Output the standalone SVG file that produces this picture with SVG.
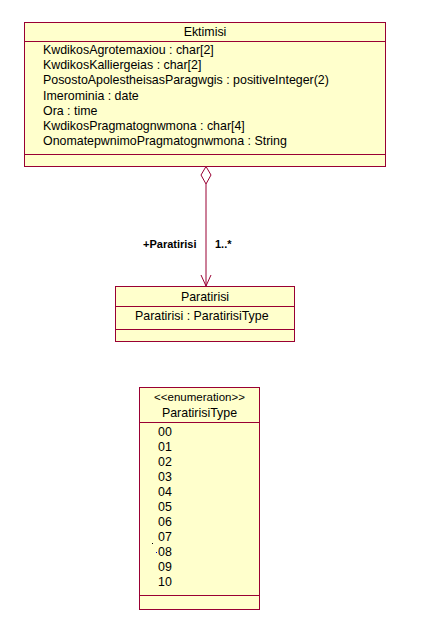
<svg xmlns="http://www.w3.org/2000/svg" width="441" height="627" viewBox="0 0 441 627">
<style>
.box{fill:#FFFFCC;stroke:#990033;stroke-width:1}
.ln{stroke:#990033;stroke-width:1;fill:none}
text{font-family:"Liberation Sans",Arial,sans-serif;font-size:12.4px;fill:#000}
.c{text-anchor:middle}
.b{font-weight:bold;font-size:11px}
</style>
<rect width="441" height="627" fill="#fff"/>
<g id="Ektimisi">
<rect class="box" x="24.5" y="22.5" width="361" height="144"/>
<line class="ln" x1="24.5" y1="41.5" x2="385.5" y2="41.5"/>
<line class="ln" x1="24.5" y1="154.5" x2="385.5" y2="154.5"/>
<text class="c" x="205" y="36">Ektimisi</text>
<text x="43" y="54">KwdikosAgrotemaxiou : char[2]</text>
<text x="43" y="69.2">KwdikosKalliergeias : char[2]</text>
<text x="43" y="84.4">PosostoApolestheisasParagwgis : positiveInteger(2)</text>
<text x="43" y="99.6">Imerominia : date</text>
<text x="43" y="114.8">Ora : time</text>
<text x="43" y="130">KwdikosPragmatognwmona : char[4]</text>
<text x="43" y="145.2">OnomatepwnimoPragmatognwmona : String</text>
</g>
<g id="Paratirisi">
<rect class="box" x="115.5" y="286.5" width="179" height="55"/>
<line class="ln" x1="115.5" y1="306.5" x2="294.5" y2="306.5"/>
<line class="ln" x1="115.5" y1="329.5" x2="294.5" y2="329.5"/>
<text class="c" x="205" y="301">Paratirisi</text>
<text x="135" y="320">Paratirisi : ParatirisiType</text>
</g>
<g id="ParatirisiType">
<rect class="box" x="139.5" y="387.5" width="120" height="222"/>
<line class="ln" x1="139.5" y1="422.5" x2="259.5" y2="422.5"/>
<line class="ln" x1="139.5" y1="595.5" x2="259.5" y2="595.5"/>
<text class="c" x="199.5" y="401" style="font-size:11.5px">&lt;&lt;enumeration&gt;&gt;</text>
<text class="c" x="199.5" y="417">ParatirisiType</text>
<text x="158" y="436">00</text>
<text x="158" y="451">01</text>
<text x="158" y="466">02</text>
<text x="158" y="481">03</text>
<text x="158" y="496">04</text>
<text x="158" y="511">05</text>
<text x="158" y="526">06</text>
<text x="158" y="541">07</text>
<text x="158" y="556">08</text>
<text x="158" y="571">09</text>
<text x="158" y="586">10</text>
<rect x="152" y="543" width="1" height="1" fill="#000"/>
<rect x="156" y="552" width="1" height="1" fill="#0000cc"/>
</g>
<g id="connectors">
<polygon class="ln" points="206,166.5 211,175 206,184 201,175" style="fill:#fff"/>
<line class="ln" x1="206" y1="184" x2="206" y2="286"/>
<polyline class="ln" points="201,275 206,286 211,275"/>
<text class="b" x="143" y="248">+Paratirisi</text>
<text class="b" x="215" y="248">1..*</text>
</g>
</svg>
